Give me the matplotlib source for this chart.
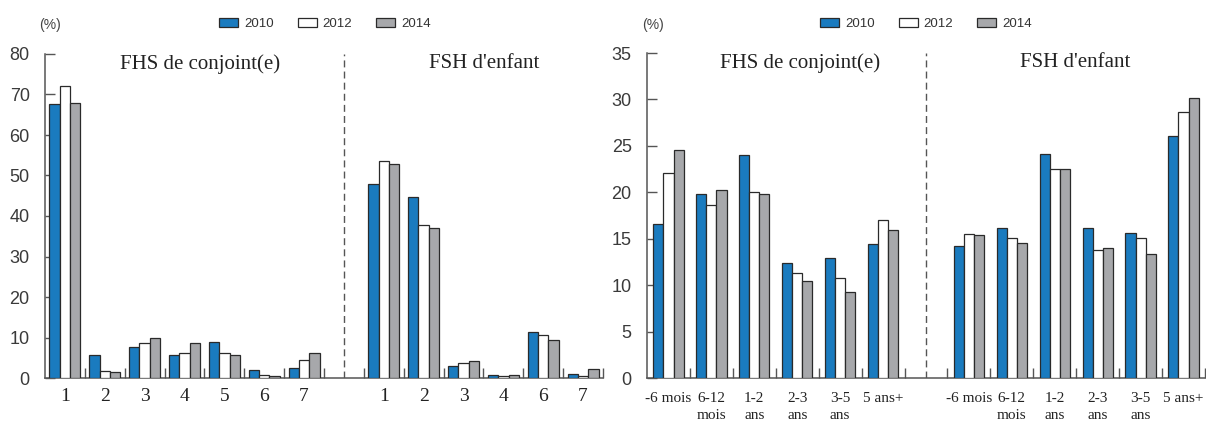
import matplotlib
matplotlib.use("Agg")
import matplotlib.pyplot as plt
from matplotlib.patches import Patch
import numpy as np

# ---------------- data ----------------
years = ['2010', '2012', '2014']

freq_spouse_labels = ['1', '2', '3', '4', '5', '6', '7']
freq_spouse_2010 = [67.6, 5.8, 7.6, 5.8, 9.0, 2.0, 2.5]
freq_spouse_2012 = [72.1, 1.7, 8.7, 6.1, 6.1, 0.8, 4.4]
freq_spouse_2014 = [68.0, 1.4, 10.0, 8.7, 5.6, 0.4, 6.2]

freq_child_labels = ['1', '2', '3', '4', '6', '7']
freq_child_2010 = [47.8, 44.6, 3.0, 0.8, 11.4, 1.1]
freq_child_2012 = [53.6, 37.9, 3.6, 0.4, 10.6, 0.6]
freq_child_2014 = [52.8, 37.1, 4.2, 0.8, 9.5, 2.2]

dur_labels = ['-6 mois', '6-12\nmois', '1-2\nans', '2-3\nans', '3-5\nans', '5 ans+']
dur_spouse_2010 = [16.6, 19.8, 24.0, 12.4, 12.9, 14.4]
dur_spouse_2012 = [22.1, 18.6, 20.0, 11.3, 10.8, 17.0]
dur_spouse_2014 = [24.6, 20.2, 19.8, 10.4, 9.3, 15.9]
dur_child_2010 = [14.2, 16.1, 24.1, 16.1, 15.6, 26.1]
dur_child_2012 = [15.5, 15.1, 22.5, 13.8, 15.1, 28.7]
dur_child_2014 = [15.4, 14.5, 22.5, 14.0, 13.4, 30.2]

title_spouse = 'FHS de conjoint(e)'
title_child = "FSH d'enfant"

# ---------------- style ----------------
colors = ['#1a7bbf', '#ffffff', '#a7a8ab']
edge = '#2a2a2a'
axis_col = '#555555'
SANS = ['Liberation Sans', 'DejaVu Sans']
SERIF = ['Liberation Serif', 'DejaVu Serif']

fig = plt.figure(figsize=(12.06, 4.23), dpi=100)


def draw_panel(ax, left_labels, left_series, right_labels, right_series,
               ymax, ystep, bar_w, xfs, xpad, title_x):
    n_l = len(left_labels)
    n_r = len(right_labels)
    pos_l = np.arange(n_l)
    gap = n_l
    pos_r = np.arange(n_r) + n_l + 1
    for k in range(3):
        off = (k - 1) * bar_w
        ax.bar(pos_l + off, left_series[k], width=bar_w, color=colors[k],
               edgecolor=edge, linewidth=0.9, zorder=3)
        ax.bar(pos_r + off, right_series[k], width=bar_w, color=colors[k],
               edgecolor=edge, linewidth=0.9, zorder=3)
    total = n_l + 1 + n_r
    ax.set_xlim(-0.5, total - 0.5)
    ax.set_ylim(0, ymax)
    ax.axvline(gap, color=axis_col, linestyle=(0, (5, 3)), linewidth=1.0)

    ax.set_xticks(list(pos_l) + list(pos_r))
    ax.set_xticklabels(list(left_labels) + list(right_labels),
                       family=SERIF, fontsize=xfs, linespacing=1.4,
                       color='#222222')
    ax.set_xticks(np.arange(0.5, total, 1.0), minor=True)
    ax.tick_params(axis='x', which='major', length=0, pad=xpad)
    ax.tick_params(axis='x', which='minor', direction='in', length=7,
                   color=axis_col, width=1.0)
    ax.set_yticks(np.arange(0, ymax + 0.01, ystep))
    ax.tick_params(axis='y', direction='in', length=7, color=axis_col,
                   width=1.0, pad=11, labelsize=13, labelcolor='#3a3a3a')
    for lab in ax.get_yticklabels():
        lab.set_family(SANS)
    for s in ['top', 'right']:
        ax.spines[s].set_visible(False)
    for s in ['left', 'bottom']:
        ax.spines[s].set_color(axis_col)
        ax.spines[s].set_linewidth(1.1)

    ax.text(title_x[0], 0.97, title_spouse, transform=ax.transAxes,
            ha='center', va='center', family=SERIF, fontsize=15, color='#222222')
    ax.text(title_x[1], 0.97, title_child, transform=ax.transAxes,
            ha='center', va='center', family=SERIF, fontsize=15, color='#222222')


ax1 = fig.add_axes([45 / 1206, 1 - 378 / 423, 558 / 1206, 324 / 423])
draw_panel(ax1, freq_spouse_labels,
           [freq_spouse_2010, freq_spouse_2012, freq_spouse_2014],
           freq_child_labels,
           [freq_child_2010, freq_child_2012, freq_child_2014],
           80, 10, 0.26, 14, 7, (0.278, 0.787))

ax2 = fig.add_axes([647 / 1206, 1 - 378 / 423, 558 / 1206, 325 / 423])
draw_panel(ax2, dur_labels,
           [dur_spouse_2010, dur_spouse_2012, dur_spouse_2014],
           dur_labels,
           [dur_child_2010, dur_child_2012, dur_child_2014],
           35, 5, 0.235, 11, 10, (0.274, 0.767))

handles = [Patch(facecolor=colors[k], edgecolor=edge, linewidth=0.9, label=years[k])
           for k in range(3)]
for cx in (325 / 1206, 926 / 1206):
    fig.legend(handles=handles, loc='center', bbox_to_anchor=(cx, 1 - 24 / 423),
               ncol=3, frameon=False, prop={'family': SANS, 'size': 9.5},
               labelcolor='#333333',
               handlelength=1.45, handleheight=0.6, handletextpad=0.45,
               columnspacing=1.8, borderaxespad=0, borderpad=0)

fig.text(50 / 1206, 1 - 25 / 423, '(%)', ha='center', va='center',
         family=SANS, fontsize=10, color='#444444')
fig.text(653 / 1206, 1 - 25 / 423, '(%)', ha='center', va='center',
         family=SANS, fontsize=10, color='#444444')

fig.savefig('out.png', dpi=100)
